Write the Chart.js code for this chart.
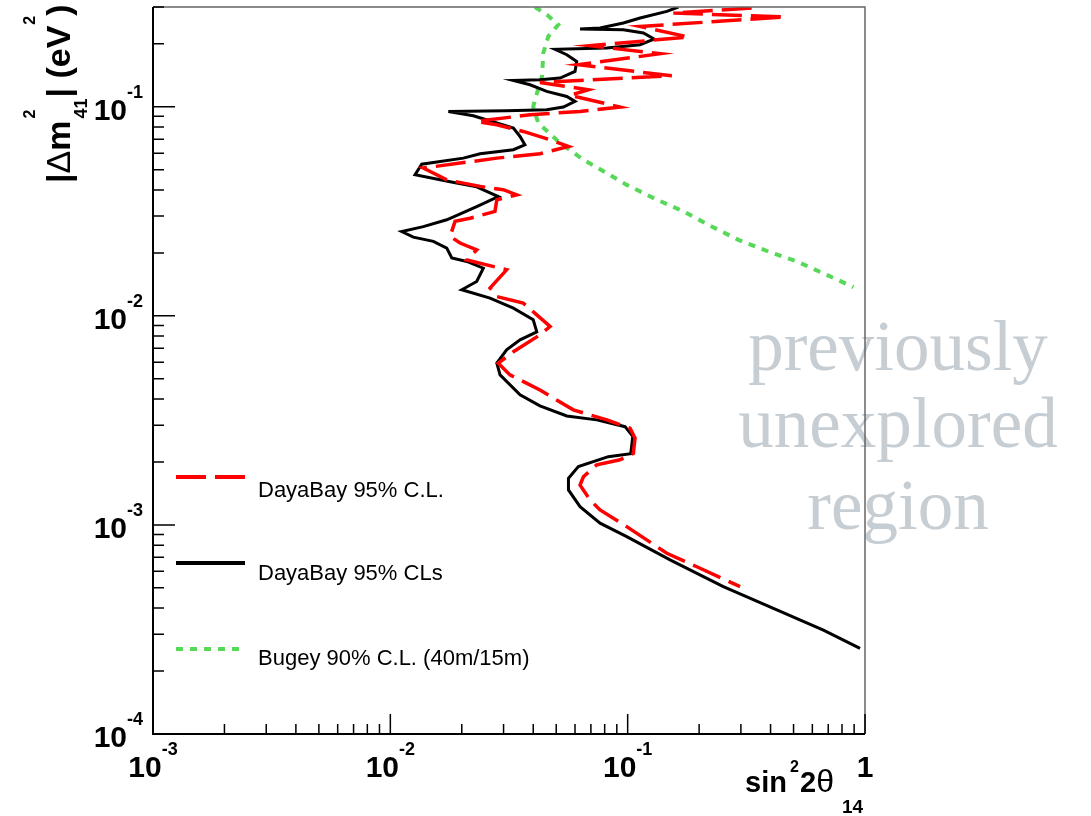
<!DOCTYPE html>
<html>
<head>
<meta charset="utf-8">
<script src="https://cdn.jsdelivr.net/npm/chart.js@4.4.1/dist/chart.umd.min.js"></script>
<style>
  body { margin: 0; background: #fff; }
  canvas { display: block; }
</style>
</head>
<body>
<canvas id="exclusionChart" width="1091" height="816"></canvas>
<script>
// DayaBay 95% C.L. (red dashed)
const clX = [0.333,0.1558,0.4606,0.1128,0.1803,0.0694,0.1370,0.0620,0.1534,0.0427,0.0683,0.0572,0.0929,0.0630,0.0388,0.02312,0.0281,0.0363,0.0471,0.0563,0.0427,0.0281,0.01377,0.01729,0.0239,0.0299,0.0341,0.0281,0.0276,0.02168,0.01874,0.01785,0.01967,0.02312,0.0210,0.0309,0.0263,0.0281,0.0363,0.0414,0.0471,0.0414,0.0330,0.0285,0.0319,0.0427,0.0590,0.0817,0.1023,0.1074,0.1057,0.0929,0.0741,0.0651,0.0630,0.0694,0.0765,0.0991,0.1462,0.1956,0.2976];
const clY = [0.2966,0.2808,0.2687,0.2422,0.2156,0.1958,0.1793,0.1589,0.1406,0.1307,0.1206,0.1135,0.0997,0.0950,0.0916,0.0851,0.0820,0.0762,0.0695,0.0646,0.0596,0.0568,0.0509,0.0447,0.0416,0.0401,0.0379,0.0359,0.0316,0.0293,0.0283,0.0240,0.0223,0.0207,0.0185,0.0166,0.01357,0.01237,0.01150,0.01011,0.00889,0.00793,0.00673,0.00594,0.00522,0.00442,0.00355,0.00318,0.00290,0.00260,0.00220,0.00205,0.00194,0.00170,0.00155,0.001317,0.001179,0.000981,0.000732,0.000631,0.000507];

// DayaBay 95% CLs (black solid)
const clsX = [0.1635,0.1462,0.1128,0.0959,0.0765,0.0630,0.0959,0.1165,0.1292,0.1128,0.0817,0.0494,0.0554,0.0610,0.0600,0.0519,0.0427,0.0330,0.0388,0.0456,0.0554,0.0600,0.0536,0.0456,0.0309,0.01756,0.02237,0.0281,0.0330,0.0352,0.0369,0.0330,0.0239,0.0203,0.01356,0.01271,0.01785,0.02312,0.0285,0.02312,0.01729,0.01377,0.01117,0.01250,0.01518,0.01729,0.01815,0.0210,0.02465,0.02312,0.0200,0.0263,0.0330,0.0400,0.0414,0.0352,0.0309,0.0281,0.0290,0.0352,0.0427,0.0554,0.0741,0.0975,0.1051,0.1030,0.0829,0.0620,0.0563,0.0563,0.0630,0.0765,0.0991,0.1509,0.2530,0.4111,0.668,0.953];
const clsY = [0.300,0.2858,0.2657,0.2515,0.2380,0.2353,0.2335,0.2253,0.2108,0.1980,0.1910,0.1884,0.1773,0.1647,0.1475,0.1372,0.1346,0.1336,0.1274,0.1184,0.1120,0.1060,0.0997,0.0967,0.0957,0.0950,0.0906,0.0836,0.0791,0.0721,0.0658,0.0623,0.0596,0.0568,0.0531,0.0473,0.0438,0.0414,0.0372,0.0333,0.0288,0.0267,0.0253,0.0238,0.0227,0.0211,0.0189,0.0182,0.0169,0.01459,0.01332,0.01215,0.01088,0.00957,0.00838,0.00768,0.00688,0.00594,0.00522,0.00419,0.00371,0.00332,0.00318,0.00295,0.00265,0.00219,0.00212,0.00190,0.00167,0.00147,0.001223,0.001019,0.000879,0.000680,0.000507,0.000399,0.000314,0.000257];

// Bugey 90% C.L. (green dotted)
const bugeyX = [0.0407,0.0457,0.0510,0.0463,0.0441,0.0436,0.0407,0.0400,0.0420,0.0519,0.0651,0.0765,0.0991,0.1304,0.1717,0.2224,0.2927,0.3916,0.516,0.690,0.894];
const bugeyY = [0.300,0.2755,0.2468,0.2170,0.1807,0.1406,0.1080,0.1000,0.0836,0.0670,0.0558,0.0503,0.0423,0.0363,0.0316,0.0270,0.0231,0.0203,0.0182,0.0157,0.01372];

const xDecades = [0.001, 0.01, 0.1, 1];
const xTickLabels = [['10', '-3'], ['10', '-2'], ['10', '-1'], ['1', '']];
const yDecades = [0.0001, 0.001, 0.01, 0.1];
const yTickLabels = [['10', '-4'], ['10', '-3'], ['10', '-2'], ['10', '-1']];

const legendLabels = ['DayaBay 95% C.L.', 'DayaBay 95% CLs', 'Bugey 90% C.L. (40m/15m)'];
const regionText = ['previously', 'unexplored', 'region'];

const SANS = '"Liberation Sans", Arial, sans-serif';

function toPoints(xs, ys) {
    return xs.map((x, i) => ({ x: x, y: ys[i] }));
}

// decade + 2..9 ticks inside [min, max]
function logTicks(min, max) {
    let ticks = [];
    for (let d = Math.floor(Math.log10(min)); d <= Math.ceil(Math.log10(max)); d++) {
        for (let m = 1; m < 10; m++) {
            let v = m * Math.pow(10, d);
            if (v >= min * 0.999 && v <= max * 1.001) ticks.push({ v: v, major: m === 1 });
        }
    }
    return ticks;
}

const rootStyle = {
    id: 'rootStyle',
    beforeDraw(chart) {
        const ctx = chart.ctx;
        ctx.save();
        ctx.fillStyle = '#fff';
        ctx.fillRect(0, 0, chart.width, chart.height);
        // watermark text
        ctx.font = '71px "Liberation Serif", serif';
        ctx.fillStyle = '#c6cdd3';
        ctx.textAlign = 'center';
        const base = [370, 447, 529];
        regionText.forEach((t, i) => ctx.fillText(t, 898, base[i]));
        ctx.restore();
    },
    afterDraw(chart) {
        const ctx = chart.ctx;
        const a = chart.chartArea;
        const xs = chart.scales.x, ys = chart.scales.y;
        ctx.save();

        // frame
        ctx.strokeStyle = '#666';
        ctx.lineWidth = 1.5;
        ctx.beginPath();
        ctx.moveTo(a.left, a.top); ctx.lineTo(a.right, a.top); ctx.lineTo(a.right, a.bottom);
        ctx.stroke();
        ctx.strokeStyle = '#000';
        ctx.lineWidth = 2;
        ctx.beginPath();
        ctx.moveTo(a.left, a.top); ctx.lineTo(a.left, a.bottom); ctx.lineTo(a.right, a.bottom);
        ctx.stroke();

        // ticks
        ctx.lineWidth = 1.5;
        ctx.beginPath();
        logTicks(xs.min, xs.max).forEach(t => {
            let px = xs.getPixelForValue(t.v);
            ctx.moveTo(px, a.bottom);
            ctx.lineTo(px, a.bottom - (t.major ? 20 : 10));
        });
        logTicks(ys.min, ys.max).forEach(t => {
            let py = ys.getPixelForValue(t.v);
            ctx.moveTo(a.left, py);
            ctx.lineTo(a.left + (t.major ? 22 : 11), py);
        });
        ctx.stroke();

        // tick labels
        const big = 'bold 30px ' + SANS, small = 'bold 18px ' + SANS;
        ctx.fillStyle = '#000';
        ctx.textAlign = 'left';
        xDecades.forEach((v, i) => {
            let px = xs.getPixelForValue(v);
            ctx.font = big; let w1 = ctx.measureText(xTickLabels[i][0]).width;
            ctx.font = small; let w2 = ctx.measureText(xTickLabels[i][1]).width;
            let x0 = px - (w1 + w2) / 2;
            ctx.font = big; ctx.fillText(xTickLabels[i][0], x0, a.bottom + 43);
            ctx.font = small; ctx.fillText(xTickLabels[i][1], x0 + w1, a.bottom + 21);
        });
        yDecades.forEach((v, i) => {
            let py = ys.getPixelForValue(v);
            ctx.font = small; let w2 = ctx.measureText(yTickLabels[i][1]).width;
            ctx.font = big; let w1 = ctx.measureText(yTickLabels[i][0]).width;
            let x0 = a.left - 10 - w2 - w1;
            ctx.fillText(yTickLabels[i][0], x0, py + 13);
            ctx.font = small; ctx.fillText(yTickLabels[i][1], x0 + w1, py - 9);
        });

        // x title: sin^2 2θ_14
        ctx.font = 'bold 29px ' + SANS; ctx.fillText('sin', 745, 792);
        ctx.font = 'bold 16px ' + SANS; ctx.fillText('2', 790, 772);
        ctx.font = 'bold 29px ' + SANS; ctx.fillText('2', 800, 792);
        let w2 = ctx.measureText('2').width;
        ctx.font = '32px ' + SANS; ctx.fillText('\u03b8', 800 + w2, 792);
        ctx.font = 'bold 19px ' + SANS; ctx.fillText('14', 842, 813);

        // y title: |Δm^2_41| (eV^2), rotated, laid out piece by piece
        ctx.save();
        ctx.translate(70, 183);
        ctx.rotate(-Math.PI / 2);
        const main = 'bold 34px ' + SANS;
        const supF = 'bold 16px ' + SANS, subF = 'bold 18px ' + SANS;
        let u = 0;
        const put = (t, f, dy, adv) => {
            ctx.font = f;
            ctx.fillText(t, u, dy);
            let w = ctx.measureText(t).width;
            if (adv !== false) u += w;
            return w;
        };
        put('|', main, 0);
        put('\u0394', '34px ' + SANS, 0);
        put('m', main, 0);
        u += 2;
        let ws = put('2', supF, -35, false);
        let wb = put('41', subF, 17, false);
        u += Math.max(ws, wb) + 1;
        put('| (eV', main, 0);
        u += 1;
        put('2', supF, -35);
        put(')', main, 0);
        ctx.restore();

        // legend
        const ds = chart.data.datasets;
        const ly = [477, 563, 649], tb = [497, 580, 665];
        ds.forEach((d, i) => {
            ctx.strokeStyle = d.borderColor;
            ctx.lineWidth = d.legendWidth;
            ctx.setLineDash(d.borderDash || []);
            ctx.beginPath();
            ctx.moveTo(176, ly[i]); ctx.lineTo(245, ly[i]);
            ctx.stroke();
            ctx.setLineDash([]);
            ctx.font = '22px ' + SANS;
            ctx.fillStyle = '#000';
            ctx.fillText(legendLabels[i], 258, tb[i]);
        });
        ctx.restore();
    }
};

new Chart(document.getElementById('exclusionChart'), {
    type: 'scatter',
    data: {
        datasets: [{
            label: legendLabels[0],
            data: toPoints(clX, clY),
            showLine: true,
            borderColor: '#ff0000',
            borderWidth: 3.5,
            borderDash: [30, 9],
            legendWidth: 4,
            pointRadius: 0
        }, {
            label: legendLabels[1],
            data: toPoints(clsX, clsY),
            showLine: true,
            borderColor: '#000000',
            borderWidth: 3,
            legendWidth: 4,
            pointRadius: 0
        }, {
            label: legendLabels[2],
            data: toPoints(bugeyX, bugeyY),
            showLine: true,
            borderColor: '#58d858',
            borderWidth: 4,
            borderDash: [7, 7],
            legendWidth: 4,
            pointRadius: 0
        }]
    },
    options: {
        responsive: false,
        animation: false,
        layout: { padding: { left: 153, right: 226, top: 7, bottom: 82 } },
        plugins: {
            legend: { display: false },
            tooltip: { enabled: false }
        },
        scales: {
            x: { type: 'logarithmic', min: 0.001, max: 1, display: false },
            y: { type: 'logarithmic', min: 0.0001, max: 0.3, display: false }
        }
    },
    plugins: [rootStyle]
});
</script>
</body>
</html>
